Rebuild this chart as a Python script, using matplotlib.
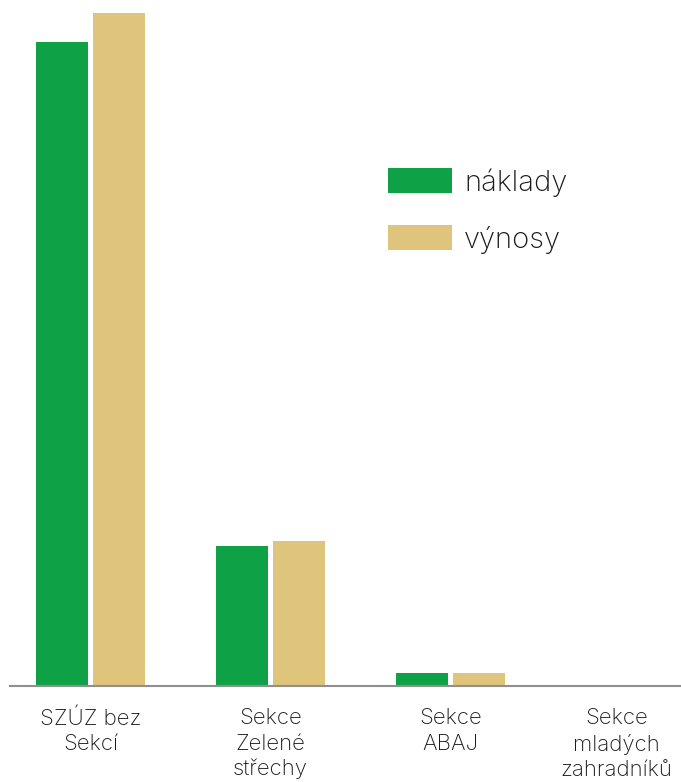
import numpy as np
import matplotlib.pyplot as plt
from matplotlib.transforms import ScaledTranslation

categories = ['SZÚZ bez\nSekcí', 'Sekce\nZelené\nstřechy', 'Sekce\nABAJ', 'Sekce\nmladých\nzahradníků']
naklady = [644, 140, 13, 0]
vynosy = [673, 145, 13, 0]

plt.rcParams['font.family'] = ['Inter', 'DejaVu Sans']

W, H = 681, 782
fig = plt.figure(figsize=(W / 100, H / 100), dpi=100)
ax = fig.add_axes([9.5 / W, (H - 686) / H, 1 - 9.5 / W, 686 / H])

x = np.arange(len(categories))
bw = 52 / 180
off = 28.5 / 180
ax.bar(x - off, naklady, bw, color='#0ea145', label='náklady')
ax.bar(x + off, vynosy, bw, color='#dfc47c', label='výnosy')

ax.set_xlim(-81 / 180, (W - 90.5) / 180)
ax.set_ylim(0, 686)
ax.set_xticks(x)
ax.set_xticklabels(categories, fontsize=16, color='#1a1a1a',
                   fontweight='light', linespacing=1.33)
ax.tick_params(axis='x', length=0, pad=16)
# last label is pulled in so it fits inside the figure
last = ax.get_xticklabels()[-1]
last.set_transform(last.get_transform() + ScaledTranslation(-0.14, 0, fig.dpi_scale_trans))
ax.set_yticks([])
for s in ['top', 'right', 'left']:
    ax.spines[s].set_visible(False)
ax.spines['bottom'].set_color('#8f8f8f')
ax.spines['bottom'].set_linewidth(1.5)

fs = 21
px = fs * 100 / 72
leg = ax.legend(loc='upper left', bbox_to_anchor=(362 / W, 1 - 142 / H),
                bbox_transform=fig.transFigure, frameon=False,
                prop={'size': fs, 'weight': 'light'},
                handlelength=64 / px, handleheight=27 / px, handletextpad=12 / px,
                labelspacing=0.98)
for t in leg.get_texts():
    t.set_color('#1a1a1a')

fig.savefig('out.png', dpi=100)
